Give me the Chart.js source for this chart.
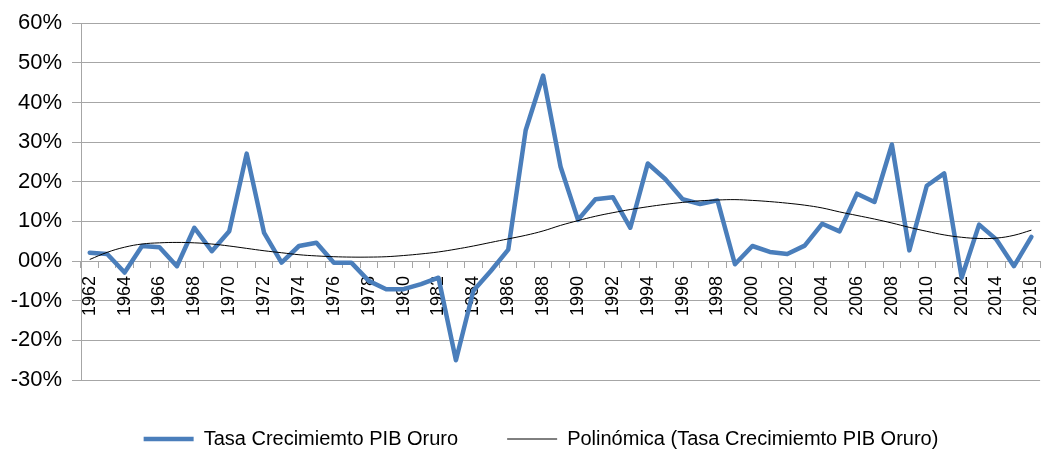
<!DOCTYPE html>
<html>
<head>
<meta charset="utf-8">
<script src="https://cdn.jsdelivr.net/npm/chart.js@4/dist/chart.umd.min.js"></script>
<style>
  html, body { margin: 0; padding: 0; background: #fff; }
  #wrap { width: 1062px; height: 450px; }
</style>
</head>
<body>
<div id="wrap"><canvas id="pibChart"></canvas></div>
<script>
const years = [
  '1962','1963','1964','1965','1966','1967','1968','1969','1970','1971',
  '1972','1973','1974','1975','1976','1977','1978','1979','1980','1981',
  '1982','1983','1984','1985','1986','1987','1988','1989','1990','1991',
  '1992','1993','1994','1995','1996','1997','1998','1999','2000','2001',
  '2002','2003','2004','2005','2006','2007','2008','2009','2010','2011',
  '2012','2013','2014','2015','2016'
];

// Tasa de crecimiento (%)
const growth = [
  2.1, 1.8, -2.9, 3.8, 3.5, -1.3, 8.4, 2.5, 7.5, 27.1,
  7.1, -0.4, 3.8, 4.6, -0.4, -0.4, -5.0, -7.1, -7.1, -5.8,
  -4.2, -25.0, -7.5, -2.5, 2.9, 33.0, 46.8, 23.8, 10.4, 15.6,
  16.1, 8.4, 24.6, 20.7, 15.6, 14.4, 15.3, -0.8, 3.8, 2.3,
  1.8, 3.9, 9.4, 7.5, 17.0, 14.9, 29.4, 2.7, 19.0, 22.1,
  -4.2, 9.2, 5.4, -1.3, 6.1
];

// Línea de tendencia polinómica
const trend = [
  0.4, 2.2, 3.5, 4.3, 4.6, 4.7, 4.6, 4.3, 3.8, 3.2,
  2.6, 2.1, 1.6, 1.3, 1.1, 1.0, 1.0, 1.1, 1.4, 1.8,
  2.3, 3.0, 3.8, 4.7, 5.6, 6.5, 7.6, 9.0, 10.2, 11.3,
  12.2, 13.0, 13.7, 14.3, 14.8, 15.2, 15.4, 15.5, 15.3, 15.0,
  14.6, 14.1, 13.4, 12.4, 11.5, 10.6, 9.6, 8.5, 7.5, 6.6,
  6.0, 5.7, 5.8, 6.5, 7.8
];

const yMin = -30;
const yMax = 60;
const yStep = 10;

const FONT = 'Arial, "Liberation Sans", sans-serif';
const GRID = '#a6a6a6';

function pctLabel(v) {
  const n = Math.round(v);
  return (n < 0 ? '-' : '') + String(Math.abs(n)).padStart(2, '0') + '%';
}

// mueve la leyenda un poco a la derecha, como en el original
const legendShift = {
  id: 'legendShift',
  afterLayout(chart) {
    if (chart.legend) {
      chart.legend.left += 10;
      chart.legend.right += 10;
    }
  }
};

const ctx = document.getElementById('pibChart').getContext('2d');

new Chart(ctx, {
  type: 'line',
  data: {
    labels: years,
    datasets: [
      {
        label: 'Tasa Crecimiemto PIB Oruro',
        data: growth,
        borderColor: '#4a7ebb',
        backgroundColor: '#4a7ebb',
        borderWidth: 4.5,
        borderJoinStyle: 'round',
        borderCapStyle: 'round',
        pointRadius: 0,
        tension: 0,
        order: 2
      },
      {
        label: 'Polinómica (Tasa Crecimiemto PIB Oruro)',
        data: trend,
        borderColor: '#000',
        backgroundColor: '#000',
        borderWidth: 1,
        pointRadius: 0,
        tension: 0.4,
        order: 1
      }
    ]
  },
  plugins: [legendShift],
  options: {
    responsive: true,
    maintainAspectRatio: false,
    animation: false,
    layout: { padding: { top: 21, left: 0, right: 0, bottom: -9 } },
    plugins: {
      tooltip: { enabled: false },
      legend: {
        position: 'bottom',
        labels: {
          color: '#000',
          font: { size: 20, family: FONT },
          usePointStyle: true,
          pointStyle: 'line',
          pointStyleWidth: 50,
          padding: 49,
          sort: (a, b) => a.datasetIndex - b.datasetIndex
        }
      }
    },
    scales: {
      x: {
        type: 'category',
        offset: true,
        position: { y: 0 },
        grid: {
          drawOnChartArea: false,
          drawTicks: true,
          tickLength: 6,
          offset: true,
          color: GRID
        },
        border: { display: true, color: GRID, width: 1 },
        ticks: {
          autoSkip: false,
          minRotation: 90,
          maxRotation: 90,
          padding: 9,
          color: '#000',
          font: { size: 18, family: FONT },
          callback: function (val, i) { return i % 2 === 0 ? years[i] : ''; }
        }
      },
      y: {
        min: yMin,
        max: yMax,
        afterFit: scale => { scale.width = 81; },
        grid: { color: GRID, tickLength: 9 },
        border: { display: true, color: GRID },
        ticks: {
          stepSize: yStep,
          padding: 10,
          color: '#000',
          font: { size: 22, family: FONT },
          callback: v => pctLabel(v)
        }
      }
    }
  }
});
</script>
</body>
</html>
